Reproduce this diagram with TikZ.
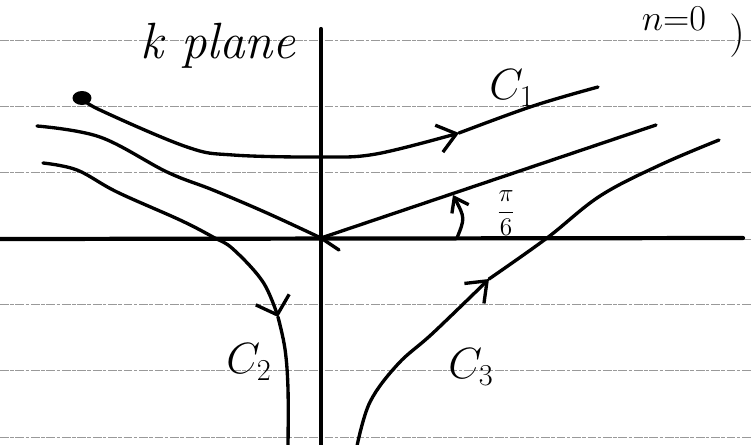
\documentclass[tikz,border=0pt]{standalone}
\usepackage{tikz}
\usetikzlibrary{arrows.meta}
\tikzset{
  ruled/.style = {draw=black!40, line width=0.4pt,
                  dash pattern=on 5pt off 0.8pt on 2pt off 1pt},
  axis/.style  = {line width=2.4pt, line cap=round},
  pen/.style   = {line width=1.9pt, line cap=round, line join=round},
  barb/.style  = {-{Straight Barb[length=3.6mm, width=5.6mm]}},
  hand/.style  = {inner sep=0pt, font=\fontsize{26}{30}\selectfont}
}

\begin{document}
\begin{tikzpicture}[x=0.02cm, y=-0.02cm]
  \clip (0,0) rectangle (752,444);
  \fill[white] (0,0) rectangle (752,444);
  \foreach \y in {40,106,172,239,304,370,437}
    \draw[ruled] (0,\y) -- (752,\y);

  \coordinate (O) at (321,238);
  \draw[axis] (0,239) -- (743,238);
  \draw[axis] (321,29) -- (321,446);

  \draw[pen] plot[smooth, tension=0.6] coordinates
    {(37,126) (100,137) (167,172) (213,190) (267,213) (O)};
  \draw[pen] (O) -- (656,125);
  \draw[pen] (O) -- (339,250);

  \fill (82,98) ellipse [x radius=0.19cm, y radius=0.14cm];
  \draw[pen, barb] plot[smooth, tension=0.6] coordinates
    {(82,98) (100,110) (187,147) (233,155) (320,157) (376,154) (459,133)};
  \draw[pen] plot[smooth, tension=0.6] coordinates
    {(459,133) (533,106) (598,87)};

  \draw[pen, -{Straight Barb[length=3.2mm, width=7mm]}] plot[smooth, tension=0.6] coordinates
    {(43,163) (77,170) (117,192) (180,220) (213,237) (233,249) (263,282) (278,317)};
  \draw[pen] plot[smooth, tension=0.6] coordinates
    {(278,317) (285,349) (288,389) (288,446)};

  \draw[pen, barb] plot[smooth, tension=0.6] coordinates
    {(357,446) (370,402) (398,364) (433,333) (489,279)};
  \draw[pen] plot[smooth, tension=0.6] coordinates
    {(489,279) (547,238) (600,196) (660,165) (719,140)};

  \draw[pen, -{Straight Barb[length=2.6mm, width=3.8mm]}]
    (457,238) .. controls (465,218) .. (453,195);

  \node[hand, anchor=base, font=\fontsize{29}{33}\selectfont\itshape]
    (kp) at (218,58) {k plane};
  \node[hand] (c1) at (512,88) {$C_1$};
  \node[hand] (c2) at (249,362) {$C_2$};
  \node[hand] (c3) at (471,367) {$C_3$};
  \node[hand, font=\fontsize{15}{18}\selectfont] (ang) at (506,213) {$\displaystyle\frac{\pi}{6}$};
  \node[hand, anchor=base, font=\fontsize{21}{25}\selectfont] (n0) at (674,30) {$n{=}0$};
  \node[hand] (par) at (737,36) {$)$};
\end{tikzpicture}
\end{document}
